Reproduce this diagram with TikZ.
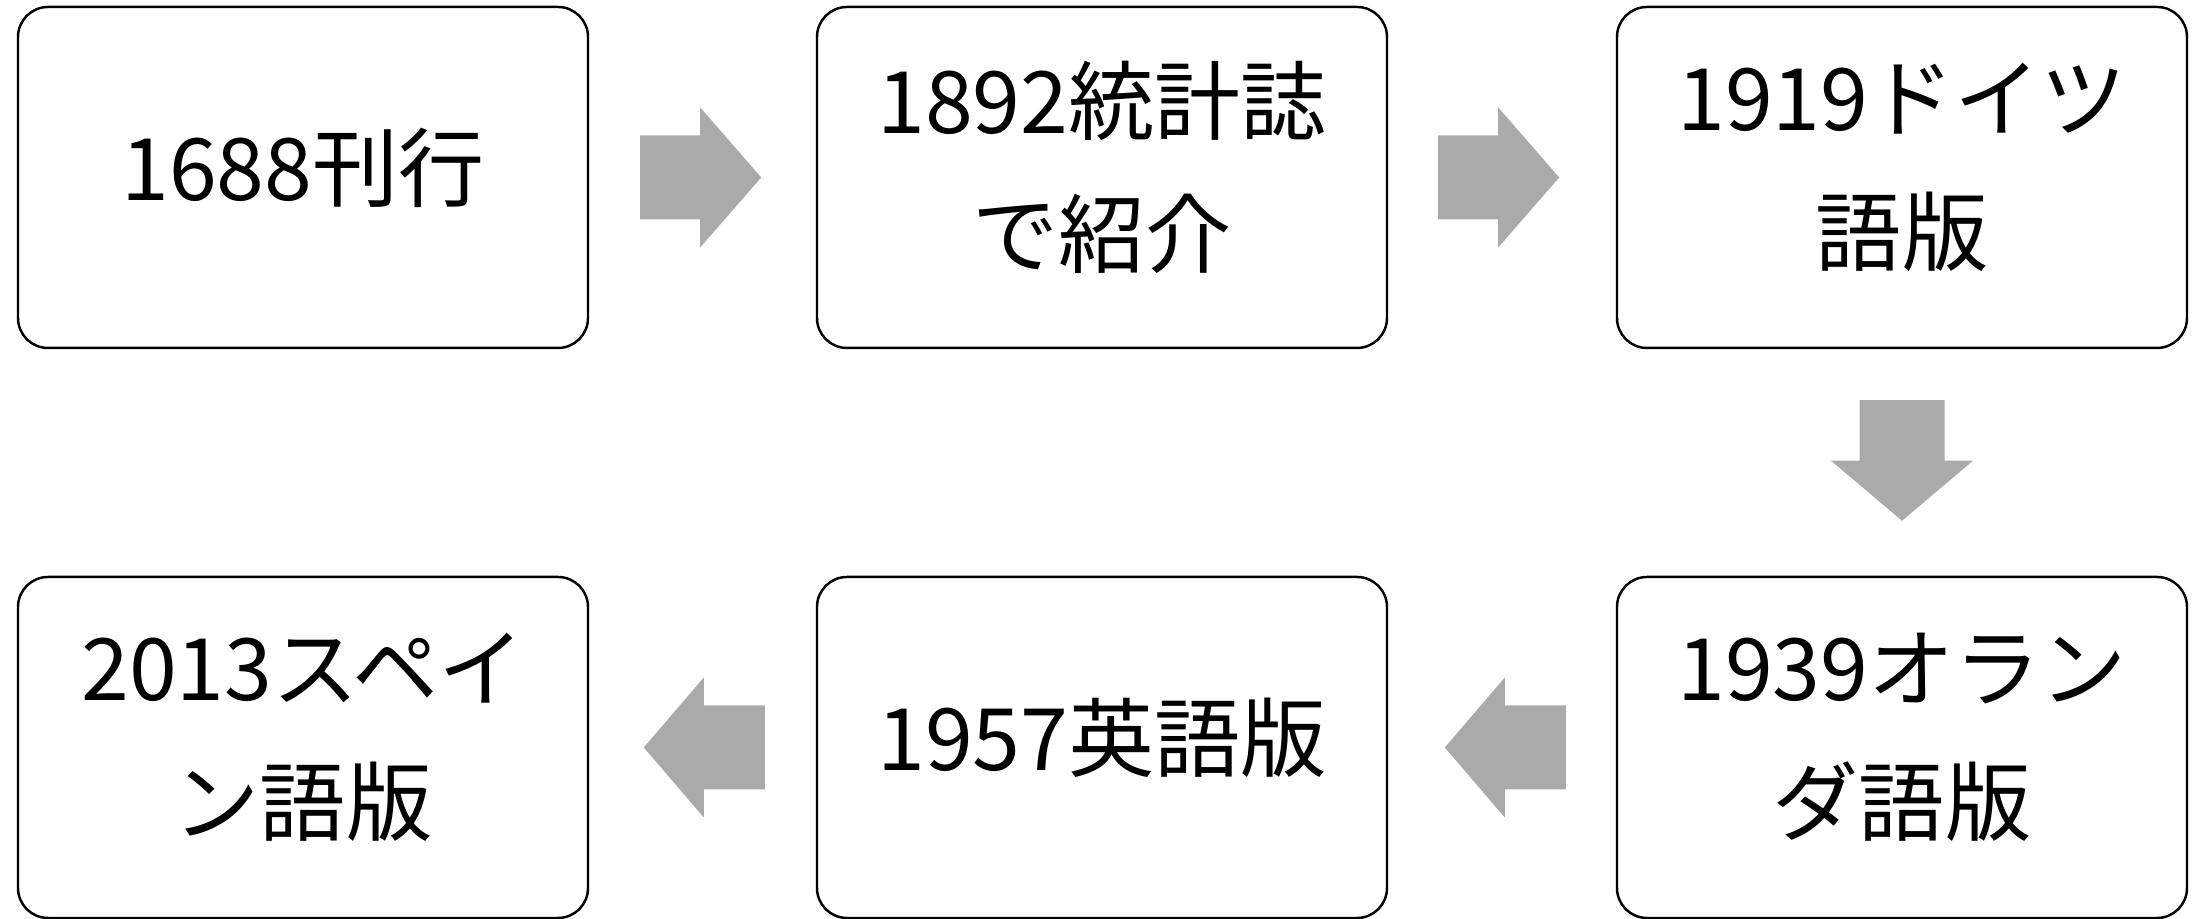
\documentclass[tikz,border=0pt]{standalone}
\usepackage{fontspec}
\setmainfont{Noto Sans CJK JP}
\usepackage{tikz}
\usetikzlibrary{positioning}
\usepackage{xcolor}

\definecolor{arrowgray}{HTML}{AAAAAA}

\begin{document}
\begin{tikzpicture}[
eventbox/.style={draw=black, line width=0.7pt, rounded corners=0.3cm, minimum width=5.70cm, minimum height=3.41cm, align=center, text depth=0.27cm, font=\fontsize{24.5pt}{38pt}\selectfont},
blockarrow/.style={fill=arrowgray}
]

\useasboundingbox (0,0) rectangle (22.01,9.19);

% top row
\node[eventbox] (n1688) at (3.03,7.415) {1688刊行};
\node[eventbox] (n1892) at (11.02,7.415) {1892統計誌\\で紹介};
\node[eventbox] (n1919) at (19.02,7.415) {1919ドイツ\\語版};

% bottom row
\node[eventbox] (n1939) at (19.02,1.715) {1939オラン\\ダ語版};
\node[eventbox] (n1957) at (11.02,1.715) {1957英語版};
\node[eventbox] (n2013) at (3.03,1.715) {2013スペイ\\ン語版};


% gray arrows
{
\fill[blockarrow] ([xshift=0.51cm,yshift=0.42cm]n1688.east)--++(0.60,0)--++(0,0.28)--++(0.61,-0.70)--++(-0.61,-0.70)--++(0,0.28)--++(-0.60,0)--cycle;
\fill[blockarrow] ([xshift=0.50cm,yshift=0.42cm]n1892.east)--++(0.60,0)--++(0,0.28)--++(0.61,-0.70)--++(-0.61,-0.70)--++(0,0.28)--++(-0.60,0)--cycle;

\fill[blockarrow] ([xshift=-0.425cm,yshift=-0.51cm]n1919.south)--++(0,-0.605)--++(-0.285,0)--++(0.71,-0.60)--++(0.71,0.60)--++(-0.285,0)--++(0,0.605)--cycle;

\fill[blockarrow] ([xshift=-0.50cm,yshift=0.42cm]n1939.west)--++(-0.61,0)--++(0,0.28)--++(-0.60,-0.70)--++(0.60,-0.70)--++(0,0.28)--++(0.61,0)--cycle;
\fill[blockarrow] ([xshift=-0.51cm,yshift=0.42cm]n1957.west)--++(-0.61,0)--++(0,0.28)--++(-0.60,-0.70)--++(0.60,-0.70)--++(0,0.28)--++(0.61,0)--cycle;
}

\end{tikzpicture}
\end{document}
